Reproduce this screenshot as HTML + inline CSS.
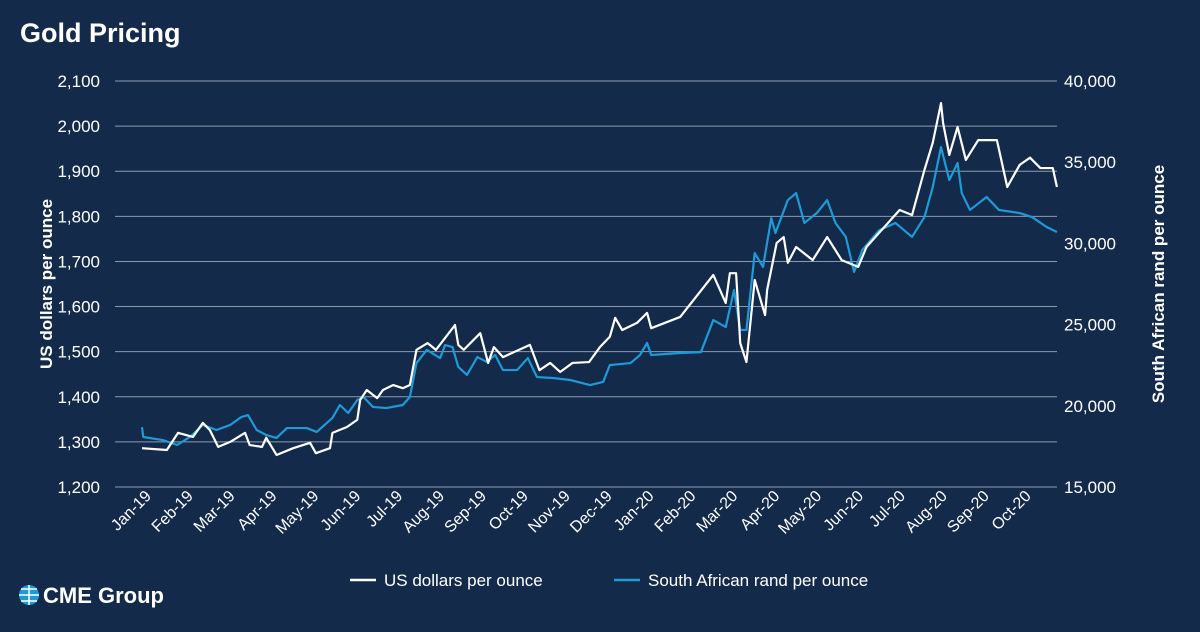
<!DOCTYPE html>
<html><head><meta charset="utf-8"><style>
body{margin:0;width:1200px;height:627px;background:#132a4b;overflow:hidden;font-family:"Liberation Sans",sans-serif;}
</style></head><body>
<svg width="1200" height="627" xmlns="http://www.w3.org/2000/svg">
<rect width="1200" height="627" fill="#132a4b"/>
<text x="20" y="42" fill="#fff" font-size="27" font-weight="bold">Gold Pricing</text>
<g id="grid"></g><g id="series"></g><g id="axes"></g>
<text transform="translate(52,284) rotate(-90)" text-anchor="middle" fill="#fff" font-size="17" font-weight="bold">US dollars per ounce</text>
<text transform="translate(1164,284) rotate(-90)" text-anchor="middle" fill="#fff" font-size="17" font-weight="bold">South African rand per ounce</text>
<g>
<line x1="350" y1="580" x2="376" y2="580" stroke="#fff" stroke-width="2.5"/>
<text x="384" y="586" fill="#fff" font-size="17">US dollars per ounce</text>
<line x1="614" y1="580" x2="640" y2="580" stroke="#1e9ad6" stroke-width="2.5"/>
<text x="648" y="586" fill="#fff" font-size="17">South African rand per ounce</text>
</g>
<g>
<circle cx="29" cy="595" r="10" fill="#1e9ad6"/>
<path d="M19 595h20M29 585v20M21 589h16M21 601h16" stroke="#fff" stroke-width="1.5"/>
<text x="43" y="603" fill="#fff" font-size="22" font-weight="bold">CME Group</text>
</g>
</svg>
<script>
const months=["Jan-19","Feb-19","Mar-19","Apr-19","May-19","Jun-19","Jul-19","Aug-19","Sep-19","Oct-19","Nov-19","Dec-19","Jan-20","Feb-20","Mar-20","Apr-20","May-20","Jun-20","Jul-20","Aug-20","Sep-20","Oct-20"];
const leftTicks=[1200,1300,1400,1500,1600,1700,1800,1900,2000,2100];
const rightTicks=[15000,20000,25000,30000,35000,40000];
const usdT=[0,0.6,0.87,1.23,1.47,1.64,1.84,2.13,2.49,2.6,2.9,3.0,3.25,3.65,4.06,4.2,4.54,4.6,4.95,5.2,5.27,5.43,5.68,5.82,6.07,6.3,6.47,6.63,6.9,7.1,7.56,7.64,7.77,8.17,8.36,8.5,8.72,9.37,9.6,9.86,10.1,10.4,10.8,11.06,11.3,11.43,11.6,11.96,12.2,12.3,13.0,13.8,14.1,14.2,14.35,14.45,14.6,14.8,15.05,15.1,15.33,15.5,15.6,15.8,16.2,16.55,16.9,17.3,17.5,17.8,18.3,18.6,18.9,19.1,19.3,19.35,19.5,19.7,19.9,20.2,20.65,20.9,21.2,21.45,21.7,22.0,22.1];
const usd=[1286,1282,1320,1311,1342,1326,1289,1300,1320,1293,1289,1309,1271,1286,1298,1275,1286,1320,1333,1349,1393,1415,1397,1415,1426,1419,1426,1504,1519,1504,1559,1515,1504,1541,1475,1510,1488,1515,1459,1475,1455,1475,1477,1510,1533,1575,1548,1564,1586,1552,1577,1670,1608,1674,1674,1519,1477,1659,1581,1637,1741,1754,1697,1732,1703,1754,1703,1688,1732,1763,1814,1803,1903,1963,2051,2007,1936,1998,1925,1969,1969,1865,1914,1930,1907,1907,1865];
const zarT=[0,0.03,0.5,0.85,1.16,1.47,1.8,2.13,2.4,2.56,2.77,3.0,3.25,3.5,3.98,4.22,4.6,4.78,4.98,5.2,5.35,5.58,5.9,6.3,6.47,6.63,6.88,7.2,7.32,7.5,7.64,7.85,8.1,8.33,8.53,8.72,9.06,9.32,9.54,9.93,10.34,10.82,11.14,11.3,11.8,12.03,12.2,12.3,13.0,13.5,13.8,14.1,14.3,14.45,14.6,14.8,15.0,15.2,15.3,15.6,15.8,16.0,16.3,16.55,16.75,17.0,17.2,17.4,17.8,18.2,18.6,18.9,19.1,19.3,19.5,19.7,19.8,20.0,20.4,20.7,21.2,21.5,21.85,22.1];
const zar=[18690,18080,17890,17590,18080,18820,18510,18820,19310,19430,18510,18200,18020,18630,18630,18390,19250,20050,19560,20360,20540,19930,19860,20050,20540,22630,23440,22940,23740,23620,22390,21900,23000,22700,23130,22200,22200,22940,21770,21710,21590,21280,21470,22510,22630,23130,23870,23130,23250,23300,25280,24850,27130,24670,24670,29400,28550,31560,30640,32670,33100,31260,31870,32670,31260,30400,28240,29600,30800,31260,30400,31620,33470,35930,33900,34950,33100,32060,32860,32060,31870,31620,31010,30700];
const NS="http://www.w3.org/2000/svg";
const X0=142,XW=41.4,YT=81,YB=487;
const x=m=>X0+m*XW;
const yL=v=>YB-(v-1200)/900*(YB-YT);
const yR=v=>YB-(v-15000)/25000*(YB-YT);
function mk(t,a,p){const e=document.createElementNS(NS,t);for(const k in a)e.setAttribute(k,a[k]);document.getElementById(p).appendChild(e);return e;}
leftTicks.forEach(v=>{
 const l=mk("line",{x1:115,x2:1057,y1:yL(v),y2:yL(v),stroke:"#8d9bb0","stroke-width":1},"grid");
 
 
 const t=mk("text",{x:100,y:yL(v)+6,"text-anchor":"end",fill:"#fff","font-size":17},"axes");
 t.textContent=v.toLocaleString("en-US");
 
 
});
rightTicks.forEach(v=>{
 const t=mk("text",{x:1064,y:yR(v)+6,fill:"#fff","font-size":17},"axes");
 t.textContent=v.toLocaleString("en-US");
 
 
});
months.forEach((m,i)=>{
 const px=142+i*41.9+10,py=497;
 const t=mk("text",{x:px,y:py,"text-anchor":"end",fill:"#fff","font-size":16,transform:`rotate(-45 ${px} ${py})`},"axes");
 t.textContent=m;
 
 
});
const pz=mk("polyline",{points:zarT.map((t,i)=>x(t)+","+yR(zar[i])).join(" "),fill:"none",stroke:"#1e9ad6","stroke-width":2.2,"stroke-linejoin":"round"},"series");


const pu=mk("polyline",{points:usdT.map((t,i)=>x(t)+","+yL(usd[i])).join(" "),fill:"none",stroke:"#fff","stroke-width":2.2,"stroke-linejoin":"round"},"series");


</script>
</body></html>
